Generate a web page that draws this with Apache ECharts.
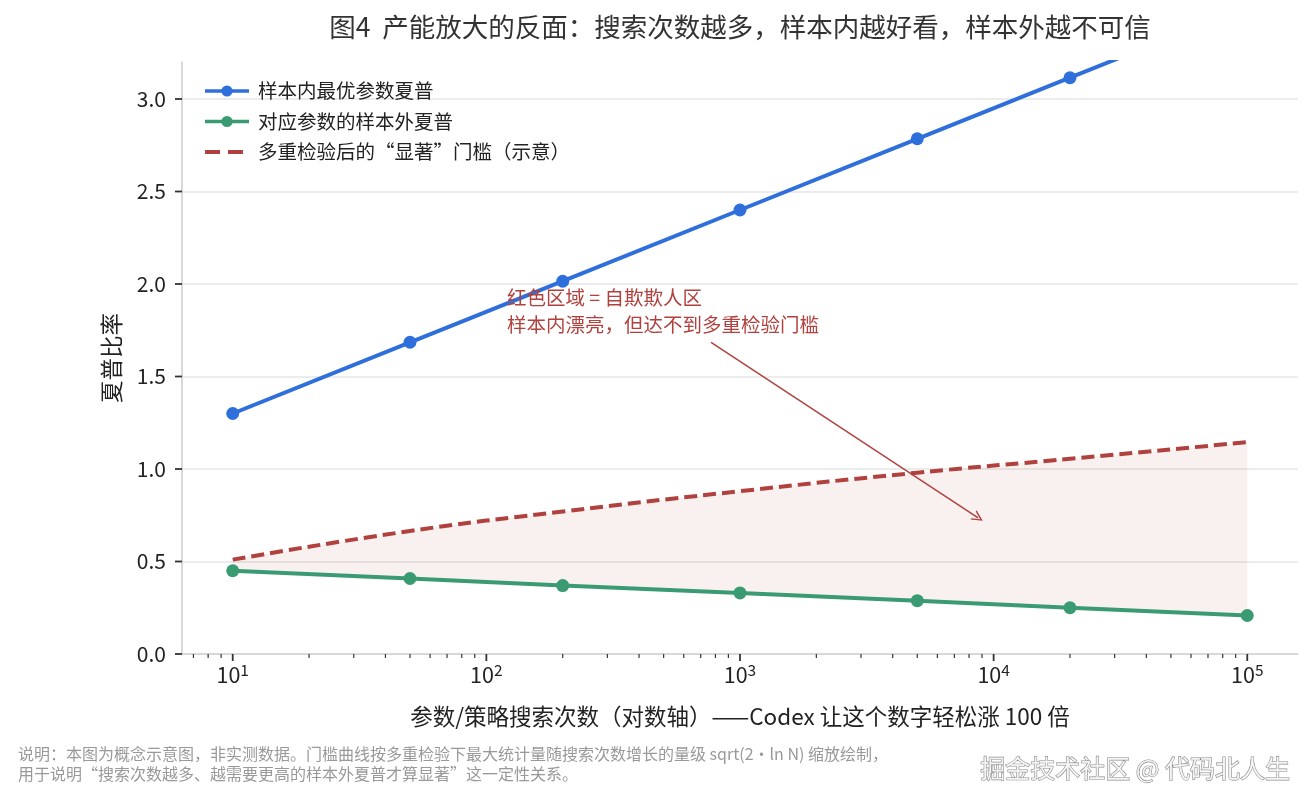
<!DOCTYPE html>
<html>
<head>
  <meta charset="utf-8">
  <title>图4 产能放大的反面</title>
  <script src="https://cdn.jsdelivr.net/npm/echarts@6/dist/echarts.min.js"></script>
  <style>
    html, body { margin: 0; padding: 0; background: #fff; }
    #main { width: 1313px; height: 805px; }
  </style>
</head>
<body>
<div id="main"></div>
<script>
  // 数据（示意）
  var searchCounts = [10, 50, 200, 1000, 5000, 20000, 100000];
  var inSampleSharpe = [1.30, 1.685, 2.015, 2.40, 2.785, 3.115, 3.50];
  var outSampleSharpe = [0.45, 0.408, 0.370, 0.330, 0.288, 0.250, 0.208];
  var thresholdSharpe = [0.51, 0.665, 0.77, 0.88, 0.98, 1.055, 1.145];

  var xMajorTicks = [10, 100, 1000, 10000, 100000];
  var xMinorTicks = [7, 8, 9, 20, 30, 40, 50, 60, 70, 80, 90,
    200, 300, 400, 500, 600, 700, 800, 900,
    2000, 3000, 4000, 5000, 6000, 7000, 8000, 9000,
    20000, 30000, 40000, 50000, 60000, 70000, 80000, 90000];
  var yTicks = [0, 0.5, 1.0, 1.5, 2.0, 2.5, 3.0];

  var names = ['样本内最优参数夏普', '对应参数的样本外夏普', '多重检验后的“显著”门槛（示意）'];
  var BLUE = '#2f6fdc', GREEN = '#3a9b73', RED = '#b0413e';
  var FONT = 'Noto Sans CJK SC';

  function pairs(ys) {
    return searchCounts.map(function (x, i) { return [x, ys[i]]; });
  }

  var myChart = echarts.init(document.getElementById('main'));

  option = {
    animation: false,
    textStyle: { fontFamily: FONT },
    grid: { left: 182, right: 15, top: 62, bottom: 151 },
    legend: {
      orient: 'vertical',
      left: 198,
      top: 76,
      itemWidth: 44,
      itemHeight: 14,
      itemGap: 10.5,
      lineStyle: { width: 3.5 },
      textStyle: { fontSize: 19.5, color: '#222', lineHeight: 20, padding: [0, 0, 0, 4] },
      data: [
        names[0],
        names[1],
        { name: names[2], itemStyle: { opacity: 0 }, lineStyle: { type: [15, 8], width: 4 } }
      ]
    },
    xAxis: {
      type: 'log',
      logBase: 10,
      min: 6.31,
      max: 158500,
      z: 5,
      axisLine: { show: true, lineStyle: { color: '#cccccc', width: 1.5 } },
      axisTick: { show: false },
      splitLine: { show: false },
      minorTick: { show: false },
      axisLabel: {
        margin: 8,
        color: '#222',
        fontSize: 21,
        formatter: function (v) {
          var e = Math.log(v) / Math.LN10;
          if (Math.abs(e - Math.round(e)) > 1e-6) return '';
          return '{base|10}{sup|' + Math.round(e) + '}';
        },
        rich: {
          base: { fontSize: 21.5, color: '#222' },
          sup: { fontSize: 15.5, color: '#222', padding: [0, 0, 11, 0] }
        }
      },
      name: '参数/策略搜索次数（对数轴）——Codex 让这个数字轻松涨 100 倍',
      nameLocation: 'middle',
      nameGap: 51,
      nameTextStyle: { fontSize: 22.5, color: '#222' }
    },
    yAxis: {
      type: 'value',
      min: 0,
      max: 3.2,
      interval: 0.5,
      axisLine: { show: true, lineStyle: { color: '#cccccc', width: 1.5 } },
      axisTick: { show: false },
      splitLine: { show: true, showMinLine: false, showMaxLine: false, lineStyle: { color: '#e6e6e6', width: 1.5 } },
      axisLabel: {
        margin: 16,
        color: '#222',
        fontSize: 21,
        formatter: function (v) {
          return Math.abs(v / 0.5 - Math.round(v / 0.5)) < 1e-6 ? v.toFixed(1) : '';
        }
      },
      name: '夏普比率',
      nameLocation: 'middle',
      nameGap: 59,
      nameTextStyle: { fontSize: 22.5, color: '#222' }
    },
    series: [
      {
        // 门槛以下的淡红填充
        name: 'band-fill',
        type: 'line',
        data: pairs(thresholdSharpe),
        symbol: 'none',
        smooth: 0.5,
        silent: true,
        lineStyle: { opacity: 0 },
        areaStyle: { color: 'rgba(160,80,70,0.11)', origin: 'start' },
        z: 1
      },
      {
        // 样本外曲线以下遮白，只留两线之间
        name: 'band-mask',
        type: 'line',
        data: pairs(outSampleSharpe),
        symbol: 'none',
        silent: true,
        lineStyle: { opacity: 0 },
        areaStyle: { color: '#ffffff', opacity: 1, origin: 'start' },
        z: 2
      },
      {
        name: names[2],
        type: 'line',
        data: pairs(thresholdSharpe),
        symbol: 'none',
        smooth: 0.5,
        color: RED,
        lineStyle: { color: RED, width: 4, type: [13, 6] },
        z: 3
      },
      {
        name: names[1],
        type: 'line',
        data: pairs(outSampleSharpe),
        symbol: 'circle',
        symbolSize: 13,
        color: GREEN,
        lineStyle: { color: GREEN, width: 4 },
        z: 4,
        markLine: {
          silent: true,
          symbol: ['none', 'path://M0,10 L5,0 L10,10 L8.6,10 L5,2.8 L1.4,10 Z'],
          symbolSize: [11, 11],
          label: { show: false },
          lineStyle: { color: RED, width: 1.5, type: 'solid' },
          data: [[{ coord: [769, 1.684] }, { coord: [8690, 0.736] }]]
        }
      },
      {
        name: names[0],
        type: 'line',
        data: pairs(inSampleSharpe),
        symbol: 'circle',
        symbolSize: 13,
        color: BLUE,
        lineStyle: { color: BLUE, width: 4 },
        z: 5
      },
      {
        // x 轴主/次刻度
        name: 'xticks',
        type: 'custom',
        silent: true,
        data: xMajorTicks.map(function (v) { return [v, 1]; })
          .concat(xMinorTicks.map(function (v) { return [v, 0]; })),
        renderItem: function (params, api) {
          var cs = params.coordSys;
          var x = api.coord([api.value(0), 1])[0];
          var y = cs.y + cs.height;
          var major = api.value(1) === 1;
          return {
            type: 'line',
            shape: { x1: x, y1: y, x2: x, y2: y + (major ? 7 : 4) },
            style: { stroke: '#333', lineWidth: major ? 1.8 : 1.2 }
          };
        },
        z: 6
      },
      {
        // y 轴刻度
        name: 'yticks',
        type: 'custom',
        silent: true,
        data: yTicks.map(function (v) { return [10, v]; }),
        renderItem: function (params, api) {
          var cs = params.coordSys;
          var y = api.coord([10, api.value(1)])[1];
          return {
            type: 'line',
            shape: { x1: cs.x - 7, y1: y, x2: cs.x, y2: y },
            style: { stroke: '#333', lineWidth: 1.8 }
          };
        },
        z: 6
      }
    ],
    graphic: [
      {
        type: 'text',
        x: 740, y: 27,
        style: {
          text: '图4  产能放大的反面：搜索次数越多，样本内越好看，样本外越不可信',
          font: '26.5px "Noto Sans CJK SC"',
          fill: '#333',
          textAlign: 'center',
          textVerticalAlign: 'middle'
        }
      },
      {
        type: 'text',
        x: 507, y: 284.5,
        z: 10,
        style: {
          text: '红色区域 = 自欺欺人区\n样本内漂亮，但达不到多重检验门槛',
          font: '19.5px "Noto Sans CJK SC"',
          lineHeight: 27,
          fill: RED,
          textAlign: 'left',
          textVerticalAlign: 'top'
        }
      },
      {
        type: 'text',
        x: 18, y: 744,
        style: {
          text: '说明：本图为概念示意图，非实测数据。门槛曲线按多重检验下最大统计量随搜索次数增长的量级 sqrt(2・ln N) 缩放绘制，\n用于说明“搜索次数越多、越需要更高的样本外夏普才算显著”这一定性关系。',
          font: '16px "Noto Sans CJK SC"',
          lineHeight: 20,
          fill: '#999',
          textAlign: 'left',
          textVerticalAlign: 'top'
        }
      },
      {
        type: 'text',
        x: 1290, y: 768,
        style: {
          text: '掘金技术社区 @ 代码北人生',
          font: '25px "Noto Sans CJK SC"',
          fill: '#f4f4f4',
          stroke: '#8a8a8a',
          lineWidth: 1.2,
          textAlign: 'right',
          textVerticalAlign: 'middle'
        }
      }
    ]
  };

  myChart.setOption(option);
</script>
</body>
</html>
